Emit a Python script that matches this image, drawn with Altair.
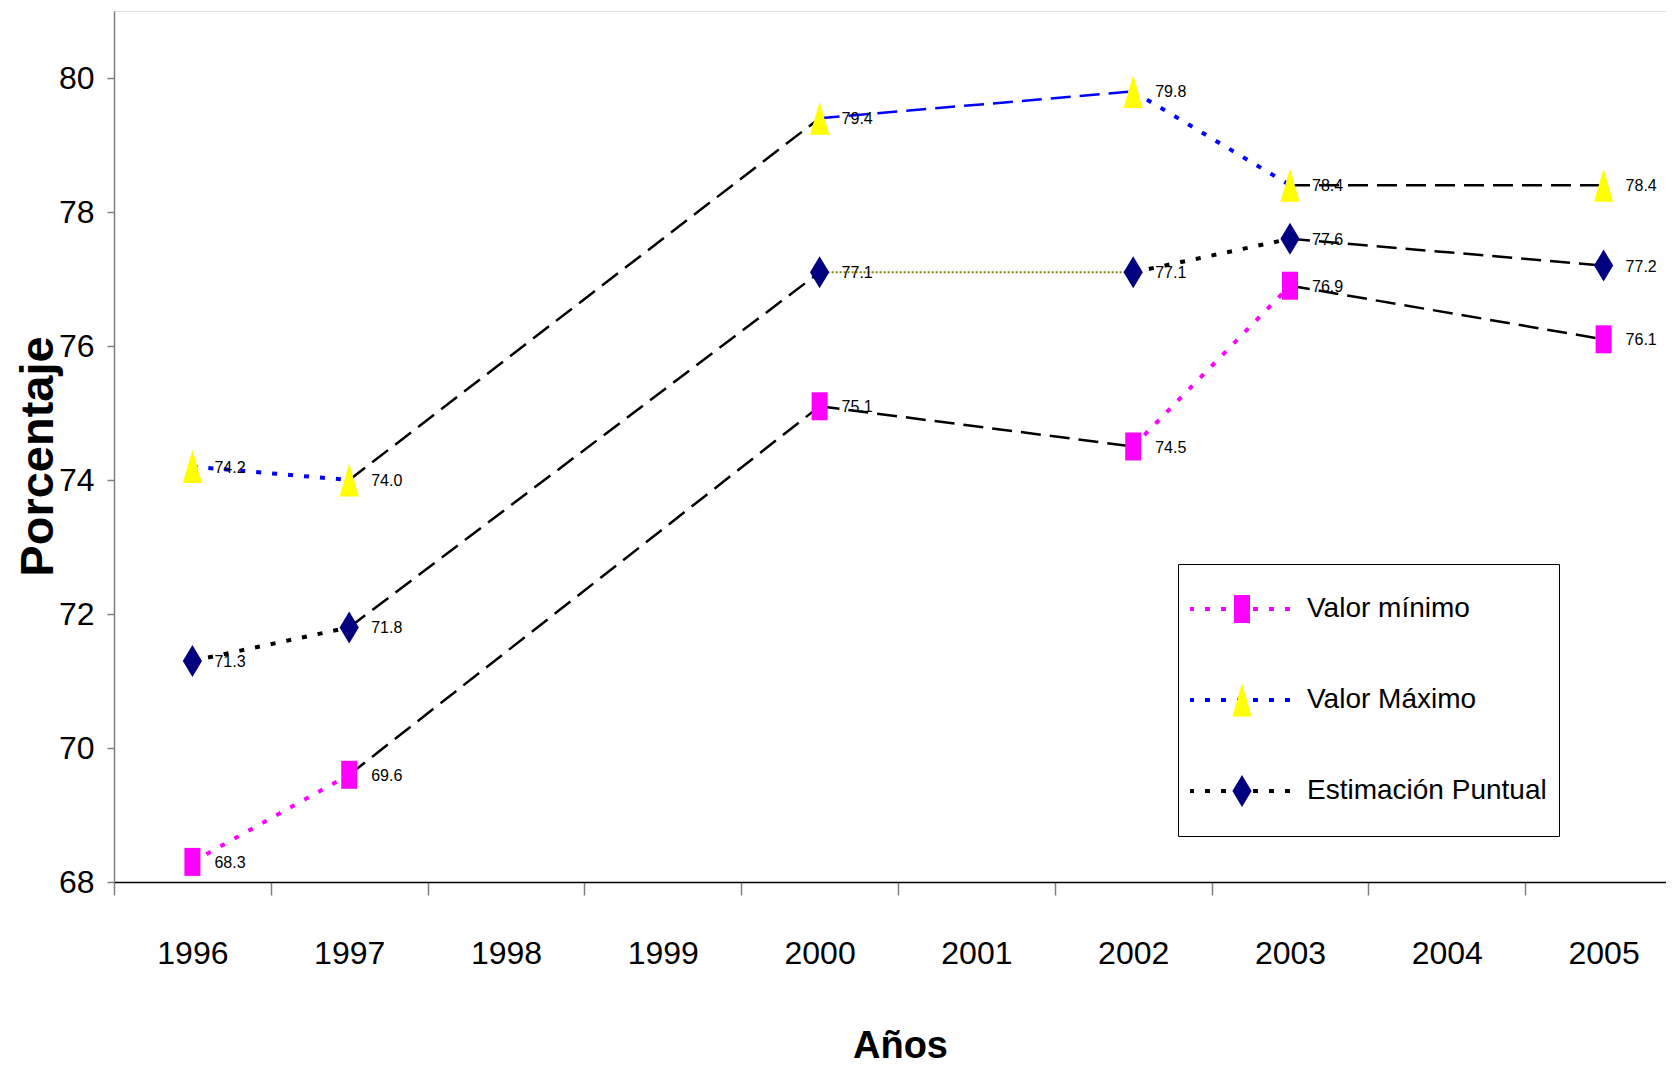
import altair as alt
import pandas as pd

# ---------------- data ----------------
years_all = ["1996", "1997", "1998", "1999", "2000", "2001", "2002", "2003", "2004", "2005"]
data_years = ["1996", "1997", "2000", "2002", "2003", "2005"]
series_names = ["Valor mínimo", "Valor Máximo", "Estimación Puntual"]

minimo = [68.3, 69.6, 75.1, 74.5, 76.9, 76.1]
maximo = [74.2, 74.0, 79.4, 79.8, 78.4, 78.4]
estimacion = [71.3, 71.8, 77.1, 77.1, 77.6, 77.2]

# style of each segment between consecutive data years
min_seg_style = ["dot", "dash", "dash", "dot", "dash"]
min_seg_color = ["#FF00FF", "#000000", "#000000", "#FF00FF", "#000000"]
max_seg_style = ["dot", "dash", "dash", "dot", "dash"]
max_seg_color = ["#0000FF", "#000000", "#0000FF", "#0000FF", "#000000"]
est_seg_style = ["dot", "dash", "thin", "dot", "dash"]
est_seg_color = ["#000000", "#000000", "#808000", "#000000", "#000000"]

marker_fill = ["#FF00FF", "#FFFF00", "#000080"]
legend_line_color = ["#FF00FF", "#0000FF", "#000000"]
marker_path = [
    "M-0.2424,-0.4242L0.2424,-0.4242L0.2424,0.4242L-0.2424,0.4242Z",
    "M0,-0.4994L0.291,0.4994L-0.291,0.4994Z",
    "M0,-0.485L0.291,0L0,0.485L-0.291,0Z",
]

FONT = "Liberation Sans Narrow, Arial Narrow, Liberation Sans, Arial, sans-serif"

# ---------------- tables ----------------
series_values = [minimo, maximo, estimacion]
series_styles = [min_seg_style, max_seg_style, est_seg_style]
series_colors = [min_seg_color, max_seg_color, est_seg_color]

pts_rows = []
for s, vals in zip(series_names, series_values):
    for y, v in zip(data_years, vals):
        pts_rows.append({"serie": s, "anio": y, "valor": v})
pts = pd.DataFrame(pts_rows)

seg_rows = []
for s, vals, sty, cols in zip(series_names, series_values, series_styles, series_colors):
    for i in range(len(vals) - 1):
        sid = f"{s}-{i}"
        for j in (i, i + 1):
            seg_rows.append({"seg": sid, "anio": data_years[j], "valor": vals[j],
                             "estilo": sty[i], "col": cols[i]})
segs = pd.DataFrame(seg_rows)

x_enc = alt.X(
    "anio:O",
    scale=alt.Scale(domain=years_all, range=[0, 1568], paddingInner=0, paddingOuter=0),
    axis=alt.Axis(
        tickBand="extent", labelAngle=0, tickSize=13, tickColor="#808080", tickWidth=1.5,
        domainColor="#000000", domainWidth=1.5, labelFont=FONT, labelFontSize=32,
        labelColor="#000000", labelPadding=43, grid=False,
        title="Años", titleFont=FONT, titleFontSize=38, titleFontWeight="bold",
        titleColor="#000000", titleX=786, titleY=164, titleBaseline="middle", titleAlign="center",
    ),
)
y_enc = alt.Y(
    "valor:Q",
    scale=alt.Scale(domain=[68, 81], nice=False, zero=False),
    axis=alt.Axis(
        values=[68, 70, 72, 74, 76, 78, 80], tickSize=7, tickColor="#808080", tickWidth=1.5,
        domainColor="#808080", domainWidth=1.5, labelFont=FONT, labelFontSize=32,
        labelColor="#000000", labelPadding=13, grid=False,
        title="Porcentaje", titleFont=FONT, titleFontSize=47, titleFontWeight="bold",
        titleColor="#000000", titleX=-76, titleY=445, titleAlign="center", titleBaseline="middle",
        titleAngle=270,
    ),
)

style_props = {
    "dot": dict(strokeDash=[5, 11], strokeWidth=4),
    "dash": dict(strokeDash=[20, 9], strokeWidth=2.5),
    "thin": dict(strokeDash=[2, 2], strokeWidth=2),
}

seg_layers = []
for st, props in style_props.items():
    seg_layers.append(
        alt.Chart(segs)
        .transform_filter(alt.datum.estilo == st)
        .mark_line(strokeCap="butt", **props)
        .encode(x=x_enc, y=y_enc, stroke=alt.Stroke("col:N", scale=None), detail="seg:N")
    )

common_legend = dict(
    orient="none", legendX=1064, legendY=553, title=None, padding=12, rowPadding=25,
    clipHeight=66,
    labelFont=FONT, labelFontSize=28, labelLimit=0, labelOffset=32, symbolOffset=19,
)

# legend helper: dotted line samples drawn underneath the marker legend
line_keys = [s + " (línea)" for s in series_names]
legend_lines = (
    alt.Chart(pts)
    .transform_filter("false")
    .mark_line(strokeDash=[5, 11], strokeWidth=4)
    .encode(
        x=x_enc, y=y_enc,
        color=alt.Color(
            "serie:N",
            scale=alt.Scale(domain=line_keys, range=legend_line_color),
            legend=alt.Legend(
                symbolType="M-1.71,0L1.71,0", symbolSize=3844, symbolStrokeWidth=4,
                symbolDash=[5, 11], labelOpacity=0, labelExpr="'\u00a0'", zindex=1,
                **common_legend,
            ),
        ),
    )
)

legend_b = alt.Legend(
    symbolSize=4356, symbolStrokeWidth=0, labelColor="#000000", zindex=2,
    strokeColor="#000000", **common_legend
)
points = (
    alt.Chart(pts)
    .mark_point(filled=True, size=4356, opacity=1, strokeWidth=0)
    .encode(
        x=x_enc, y=y_enc,
        fill=alt.Fill("serie:N", scale=alt.Scale(domain=series_names, range=marker_fill), legend=legend_b),
        shape=alt.Shape("serie:N", scale=alt.Scale(domain=series_names, range=marker_path), legend=legend_b),
    )
)

labels = (
    alt.Chart(pts)
    .mark_text(align="left", baseline="middle", dx=22, dy=1, font=FONT, fontSize=16, color="#000000")
    .encode(x=x_enc, y=y_enc, text=alt.Text("valor:Q", format=".1f"))
)

chart = (
    alt.layer(*seg_layers, legend_lines, points, labels)
    .properties(
        width=1552, height=871,
        padding={"left": 106, "top": 3, "right": 0, "bottom": 184},
        autosize=alt.AutoSizeParams(type="none"),
    )
    .configure_view(stroke=None)
    .configure(background="#FFFFFF")
)

chart.save("out.html", embed_options={"renderer": "svg", "actions": False})
